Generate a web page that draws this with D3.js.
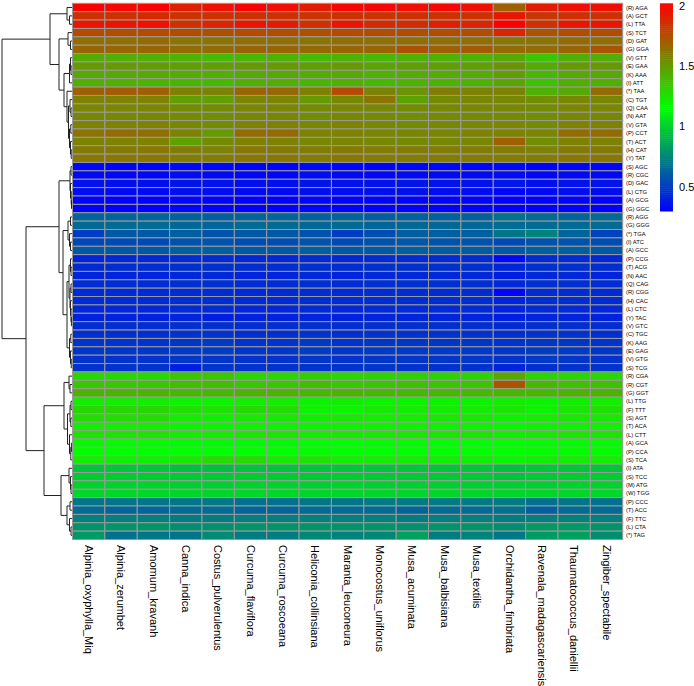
<!DOCTYPE html>
<html><head><meta charset="utf-8">
<script src="https://cdn.jsdelivr.net/npm/d3@7"></script>
<style>body{margin:0;background:#fff}text{font-family:"Liberation Sans",Arial,sans-serif;fill:#000}</style>
</head><body><svg id="c" width="694" height="686"></svg>
<script>
const species = ["Alpinia_oxyphylla_Miq","Alpinia_zerumbet","Amomum_kravanh","Canna_indica","Costus_pulverulentus","Curcuma_flaviflora","Curcuma_roscoeana","Heliconia_collinsiana","Maranta_leuconeura","Monocostus_uniflorus","Musa_acuminata","Musa_balbisiana","Musa_textilis","Orchidantha_fimbriata","Ravenala_madagascariensis","Thaumatococcus_daniellii","Zingiber_spectabile"];
const rowCodons = ["AGA","GCT","TTA","TCT","GAT","GGA","GTT","GAA","AAA","ATT","TAA","TGT","CAA","AAT","GTA","CCT","ACT","CAT","TAT","AGC","CGC","GAC","CTG","GCG","GGC","AGG","GGG","TGA","ATC","GCC","CCG","ACG","AAC","CAG","CGG","CAC","CTC","TAC","GTC","TGC","AAG","GAG","GTG","TCG","CGA","CGT","GGT","TTG","TTT","AGT","ACA","CTT","GCA","CCA","TCA","ATA","TCC","ATG","TGG","CCC","ACC","TTC","CTA","TAG"];
const rowAA = ["R","A","L","S","D","G","V","E","K","I","*","C","Q","N","V","P","T","H","Y","S","R","D","L","A","G","R","G","*","I","A","P","T","N","Q","R","H","L","Y","V","C","K","E","V","S","R","R","G","L","F","S","T","L","A","P","S","I","S","M","W","P","T","F","L","*"];
const legendTicks = [0.5, 1, 1.5, 2];

const AGA = [2.03,2.00,2.02,1.92,1.97,2.02,1.98,1.93,2.00,2.00,1.98,2.00,1.98,1.70,1.93,1.98,1.98];
const GCT = [1.86,1.86,1.88,1.85,1.86,1.86,1.86,1.85,1.86,1.85,1.86,1.86,1.86,1.95,1.84,1.86,1.86];
const TTA = [1.95,1.95,1.97,1.86,1.90,1.95,1.93,1.86,1.95,1.88,1.87,1.92,1.90,2.03,1.86,1.95,1.95];
const TCT = [1.77,1.76,1.77,1.76,1.75,1.77,1.76,1.75,1.77,1.76,1.76,1.76,1.76,1.90,1.74,1.76,1.76];
const GAT = [1.65,1.65,1.66,1.63,1.63,1.65,1.65,1.63,1.65,1.64,1.65,1.65,1.65,1.62,1.63,1.66,1.65];
const GGA = [1.68,1.68,1.68,1.66,1.66,1.68,1.68,1.67,1.68,1.68,1.75,1.70,1.72,1.66,1.66,1.68,1.74];
const GTT = [1.44,1.43,1.43,1.42,1.39,1.40,1.42,1.39,1.42,1.40,1.42,1.42,1.42,1.45,1.35,1.43,1.43];
const GAA = [1.50,1.50,1.49,1.48,1.48,1.50,1.50,1.48,1.50,1.46,1.48,1.48,1.48,1.52,1.44,1.50,1.50];
const AAA = [1.45,1.45,1.45,1.44,1.43,1.45,1.45,1.44,1.45,1.42,1.44,1.44,1.44,1.48,1.40,1.45,1.45];
const ATT = [1.43,1.43,1.42,1.41,1.40,1.43,1.43,1.41,1.43,1.40,1.42,1.42,1.42,1.46,1.37,1.43,1.43];
const TAA = [1.70,1.71,1.70,1.59,1.58,1.68,1.67,1.59,1.77,1.58,1.52,1.60,1.58,1.58,1.42,1.45,1.66];
const TGT = [1.58,1.58,1.58,1.48,1.48,1.57,1.57,1.50,1.56,1.63,1.47,1.55,1.56,1.56,1.54,1.56,1.56];
const CAA = [1.57,1.57,1.57,1.55,1.55,1.57,1.57,1.55,1.57,1.56,1.55,1.56,1.56,1.56,1.55,1.57,1.57];
const AAT = [1.56,1.56,1.56,1.55,1.54,1.56,1.56,1.54,1.56,1.55,1.54,1.55,1.55,1.55,1.54,1.56,1.56];
const GTA = [1.58,1.58,1.58,1.56,1.55,1.58,1.58,1.56,1.58,1.56,1.55,1.56,1.56,1.57,1.55,1.58,1.58];
const CCT = [1.63,1.66,1.65,1.58,1.50,1.66,1.66,1.58,1.58,1.57,1.57,1.57,1.58,1.58,1.57,1.66,1.66];
const ACT = [1.58,1.58,1.58,1.47,1.55,1.58,1.58,1.56,1.57,1.56,1.55,1.56,1.56,1.70,1.54,1.58,1.58];
const CAT = [1.61,1.61,1.62,1.60,1.58,1.62,1.61,1.60,1.61,1.60,1.60,1.60,1.60,1.60,1.58,1.61,1.61];
const TAT = [1.62,1.62,1.62,1.60,1.60,1.62,1.62,1.60,1.62,1.60,1.60,1.60,1.60,1.60,1.60,1.62,1.62];
const AGC = [0.32,0.31,0.31,0.33,0.32,0.31,0.31,0.33,0.32,0.31,0.32,0.32,0.32,0.33,0.31,0.32,0.32];
const CGC = [0.33,0.32,0.32,0.34,0.33,0.32,0.32,0.34,0.33,0.32,0.33,0.33,0.33,0.34,0.32,0.33,0.33];
const GAC = [0.36,0.35,0.35,0.37,0.36,0.35,0.35,0.37,0.36,0.36,0.37,0.36,0.36,0.38,0.35,0.36,0.36];
const CTG = [0.34,0.33,0.33,0.35,0.34,0.33,0.33,0.35,0.34,0.35,0.35,0.34,0.34,0.32,0.33,0.34,0.34];
const GCG = [0.31,0.30,0.30,0.32,0.31,0.30,0.30,0.32,0.31,0.31,0.31,0.31,0.31,0.30,0.30,0.31,0.30];
const GGC = [0.31,0.30,0.30,0.32,0.31,0.30,0.30,0.32,0.31,0.31,0.31,0.31,0.31,0.30,0.30,0.31,0.30];
const AGG = [0.64,0.64,0.64,0.63,0.62,0.64,0.64,0.63,0.64,0.62,0.63,0.63,0.63,0.68,0.66,0.64,0.66];
const GGG = [0.66,0.66,0.66,0.65,0.64,0.66,0.66,0.65,0.66,0.64,0.65,0.65,0.65,0.66,0.66,0.66,0.66];
const TGA = [0.50,0.60,0.60,0.62,0.58,0.60,0.60,0.58,0.50,0.56,0.62,0.62,0.62,0.70,0.74,0.64,0.52];
const ATC = [0.54,0.55,0.55,0.58,0.58,0.56,0.56,0.58,0.55,0.58,0.59,0.58,0.58,0.55,0.58,0.58,0.56];
const GCC = [0.60,0.60,0.60,0.62,0.62,0.60,0.60,0.62,0.60,0.60,0.62,0.61,0.61,0.60,0.62,0.62,0.60];
const CCG = [0.42,0.43,0.43,0.44,0.44,0.43,0.43,0.44,0.43,0.44,0.44,0.44,0.44,0.33,0.44,0.44,0.43];
const ACG = [0.44,0.45,0.45,0.46,0.46,0.45,0.45,0.46,0.45,0.46,0.46,0.46,0.46,0.42,0.46,0.46,0.45];
const AAC = [0.42,0.42,0.42,0.43,0.43,0.42,0.42,0.43,0.42,0.43,0.43,0.43,0.43,0.40,0.43,0.43,0.42];
const CAG = [0.45,0.45,0.45,0.46,0.46,0.45,0.45,0.46,0.45,0.46,0.46,0.46,0.46,0.44,0.46,0.46,0.45];
const CGG = [0.44,0.44,0.44,0.45,0.45,0.44,0.44,0.45,0.44,0.45,0.45,0.45,0.45,0.32,0.45,0.45,0.44];
const CAC = [0.44,0.44,0.44,0.45,0.45,0.44,0.44,0.45,0.44,0.45,0.45,0.45,0.45,0.42,0.45,0.45,0.44];
const CTC = [0.43,0.43,0.43,0.44,0.44,0.43,0.43,0.44,0.43,0.44,0.44,0.44,0.44,0.42,0.44,0.44,0.43];
const TAC = [0.41,0.41,0.41,0.42,0.40,0.41,0.41,0.42,0.41,0.42,0.42,0.42,0.42,0.40,0.42,0.42,0.41];
const GTC = [0.45,0.45,0.45,0.46,0.46,0.45,0.45,0.46,0.45,0.46,0.46,0.46,0.46,0.44,0.46,0.46,0.45];
const TGC = [0.46,0.46,0.46,0.47,0.47,0.46,0.46,0.47,0.46,0.47,0.47,0.47,0.47,0.46,0.47,0.47,0.46];
const AAG = [0.47,0.47,0.47,0.48,0.49,0.47,0.47,0.49,0.47,0.48,0.48,0.48,0.48,0.47,0.48,0.48,0.47];
const GAG = [0.48,0.48,0.48,0.49,0.50,0.48,0.48,0.50,0.48,0.49,0.49,0.49,0.49,0.48,0.50,0.49,0.48];
const GTG = [0.47,0.47,0.47,0.48,0.48,0.47,0.47,0.48,0.47,0.48,0.48,0.48,0.48,0.47,0.49,0.48,0.47];
const TCG = [0.47,0.47,0.47,0.40,0.47,0.47,0.47,0.47,0.47,0.48,0.47,0.47,0.47,0.42,0.46,0.47,0.47];
const CGA = [1.29,1.29,1.29,1.36,1.36,1.30,1.30,1.33,1.30,1.31,1.32,1.31,1.31,1.46,1.31,1.30,1.30];
const CGT = [1.35,1.35,1.35,1.38,1.38,1.35,1.35,1.38,1.35,1.36,1.37,1.36,1.36,1.74,1.40,1.37,1.37];
const GGT = [1.42,1.42,1.42,1.40,1.40,1.42,1.42,1.40,1.42,1.40,1.40,1.40,1.40,1.40,1.40,1.42,1.42];
const TTG = [1.22,1.22,1.22,1.20,1.20,1.22,1.22,1.20,1.22,1.20,1.20,1.20,1.20,1.22,1.20,1.22,1.22];
const TTT = [1.29,1.29,1.29,1.26,1.25,1.28,1.27,1.20,1.19,1.23,1.22,1.22,1.22,1.24,1.20,1.24,1.26];
const AGT = [1.27,1.27,1.27,1.22,1.21,1.23,1.23,1.21,1.23,1.22,1.22,1.23,1.23,1.20,1.22,1.23,1.23];
const ACA = [1.22,1.22,1.22,1.19,1.19,1.20,1.20,1.19,1.20,1.20,1.20,1.20,1.20,1.18,1.20,1.20,1.20];
const CTT = [1.25,1.25,1.25,1.22,1.22,1.24,1.24,1.22,1.24,1.23,1.23,1.24,1.24,1.21,1.23,1.24,1.24];
const GCA = [1.18,1.17,1.17,1.15,1.15,1.15,1.15,1.16,1.16,1.17,1.17,1.16,1.16,1.16,1.17,1.17,1.17];
const CCA = [1.17,1.16,1.16,1.16,1.16,1.16,1.16,1.17,1.16,1.16,1.16,1.16,1.16,1.16,1.17,1.17,1.17];
const TCA = [1.22,1.21,1.21,1.24,1.27,1.27,1.23,1.25,1.22,1.22,1.22,1.21,1.21,1.19,1.21,1.22,1.22];
const ATA = [0.96,0.97,0.97,0.95,0.95,0.96,0.96,0.96,0.97,0.96,0.97,0.97,0.97,0.95,0.97,0.97,0.97];
const TCC = [0.99,0.99,0.99,0.98,0.98,0.99,0.99,0.98,0.99,0.98,0.98,0.98,0.98,0.96,0.98,0.99,0.99];
const ATG = [1.01,1.01,1.01,1.00,1.00,1.01,1.01,1.00,1.01,1.00,1.00,1.00,1.00,1.00,1.00,1.01,1.01];
const TGG = [1.03,1.03,1.03,1.02,1.02,1.03,1.03,1.02,1.03,1.02,1.02,1.02,1.02,1.02,1.02,1.03,1.03];
const CCC = [0.70,0.70,0.70,0.70,0.71,0.68,0.68,0.70,0.70,0.72,0.72,0.72,0.72,0.72,0.68,0.70,0.68];
const ACC = [0.66,0.64,0.64,0.66,0.66,0.64,0.64,0.66,0.66,0.66,0.64,0.66,0.66,0.68,0.62,0.66,0.66];
const TTC = [0.74,0.73,0.73,0.72,0.72,0.73,0.73,0.74,0.73,0.74,0.72,0.73,0.73,0.72,0.73,0.74,0.73];
const CTA = [0.80,0.80,0.80,0.78,0.79,0.80,0.80,0.80,0.80,0.80,0.79,0.80,0.80,0.78,0.82,0.82,0.80];
const TAG = [0.82,0.68,0.70,0.69,0.77,0.72,0.72,0.76,0.74,0.76,0.84,0.72,0.74,0.70,0.82,0.84,0.78];

const rowValues = [AGA,GCT,TTA,TCT,GAT,GGA,GTT,GAA,AAA,ATT,TAA,TGT,CAA,AAT,GTA,CCT,ACT,CAT,TAT,AGC,CGC,GAC,CTG,GCG,GGC,AGG,GGG,TGA,ATC,GCC,CCG,ACG,AAC,CAG,CGG,CAC,CTC,TAC,GTC,TGC,AAG,GAG,GTG,TCG,CGA,CGT,GGT,TTG,TTT,AGT,ACA,CTT,GCA,CCA,TCA,ATA,TCC,ATG,TGG,CCC,ACC,TTC,CTA,TAG];

// row dendrogram: [merge height, left, right]
const rowTree = [7.0,
  [2.2,
    [0.5, "AGA", [0.25, "GCT", "TTA"]],
    [1.3,
      [0.4, "TCT", [0.15, "GAT", "GGA"]],
      [0.8,
        [0.25, [0.15, "GTT", [0.1, "GAA", "AAA"]], "ATT"],
        [0.5, "TAA", [0.35, [0.2, "TGT", [0.1, "CAA", "AAT"]], [0.25, [0.12, "GTA", "CCT"], [0.15, "ACT", [0.08, "CAT", "TAT"]]]]]]]],
  [4.6,
    [1.3,
      [0.2, [0.1, "AGC", "CGC"], [0.15, "GAC", [0.08, "CTG", [0.05, "GCG", "GGC"]]]],
      [0.9,
        [0.4, [0.15, "AGG", "GGG"], [0.25, "TGA", [0.15, "ATC", "GCC"]]],
        [0.5,
          [0.3, [0.15, "CCG", [0.1, "ACG", "AAC"]], [0.2, [0.1, "CAG", "CGG"], [0.15, "CAC", [0.1, "CTC", [0.06, "TAC", "GTC"]]]]],
          [0.25, [0.12, "TGC", "AAG"], [0.15, "GAG", [0.08, "GTG", "TCG"]]]]]],
    [2.8,
      [0.8, [0.3, "CGA", [0.2, "CGT", "GGT"]], [0.45, [0.2, [0.1, "TTG", "TTT"], [0.12, "AGT", "ACA"]], [0.25, "CTT", [0.12, [0.06, "GCA", "CCA"], "TCA"]]]],
      [1.1, [0.3, "ATA", [0.15, "TCC", [0.1, "ATG", "TGG"]]], [0.5, [0.2, "CCC", "ACC"], [0.25, "TTC", [0.1, "CTA", "TAG"]]]]]]];

const rowLabels = rowCodons.map((c, i) => `(${rowAA[i]}) ${c}`);
const svg = d3.select("#c");
const x = d3.scaleBand().domain(species).range([72.5, 622.7]);
const y = d3.scaleBand().domain(rowCodons).range([3.3, 539.5]);
const color = d3.scaleLinear().domain([0.3, 1.16, 2.02]).range(["#0000FF", "#00FF00", "#FF0000"]).clamp(true);

const cells = [];
rowValues.forEach((vals, i) => vals.forEach((v, j) => cells.push({r: rowCodons[i], c: species[j], v})));
svg.append("g").selectAll("rect").data(cells).join("rect")
  .attr("x", d => x(d.c)).attr("y", d => y(d.r))
  .attr("width", x.bandwidth()).attr("height", y.bandwidth())
  .attr("fill", d => color(d.v)).attr("stroke", "#9a9a9a").attr("stroke-width", 1);

// row labels
svg.append("g").selectAll("text").data(rowCodons).join("text")
  .attr("x", 626).attr("y", d => y(d) + y.bandwidth() / 2).attr("dy", "0.35em")
  .attr("font-size", 5.8).text((d, i) => rowLabels[i]);

// column labels
svg.append("g").selectAll("text").data(species).join("text")
  .attr("transform", d => `translate(${x(d) + x.bandwidth() / 2},545) rotate(90)`)
  .attr("dy", "0.35em").attr("font-size", 11).text(d => d);

// dendrogram
const hx = d3.scaleLinear().domain([0, 7]).range([72, 2]);
const dg = svg.append("g").attr("fill", "none").attr("stroke", "#222").attr("stroke-width", 1);
function walk(n) {
  if (typeof n === "string") return {y: y(n) + y.bandwidth() / 2, h: 0};
  const [h, a, b] = n;
  const A = walk(a), B = walk(b);
  dg.append("path").attr("d", `M${hx(A.h)},${A.y}H${hx(h)}V${B.y}H${hx(B.h)}`);
  return {y: (A.y + B.y) / 2, h};
}
walk(rowTree);

// legend
const ly = d3.scaleLinear().domain([0.3, 2.02]).range([211, 3.3]);
const steps = d3.range(0, 100).map(i => 0.3 + i * 0.0172);
svg.append("g").selectAll("rect").data(steps).join("rect")
  .attr("x", 660).attr("width", 13)
  .attr("y", d => ly(d + 0.0172)).attr("height", d => ly(d) - ly(d + 0.0172) + 0.5)
  .attr("fill", d => color(d + 0.0086));
svg.append("g").selectAll("text").data(legendTicks).join("text")
  .attr("x", 679).attr("y", d => ly(d)).attr("dy", "0.35em").attr("font-size", 11)
  .text(d => d);
</script></body></html>
